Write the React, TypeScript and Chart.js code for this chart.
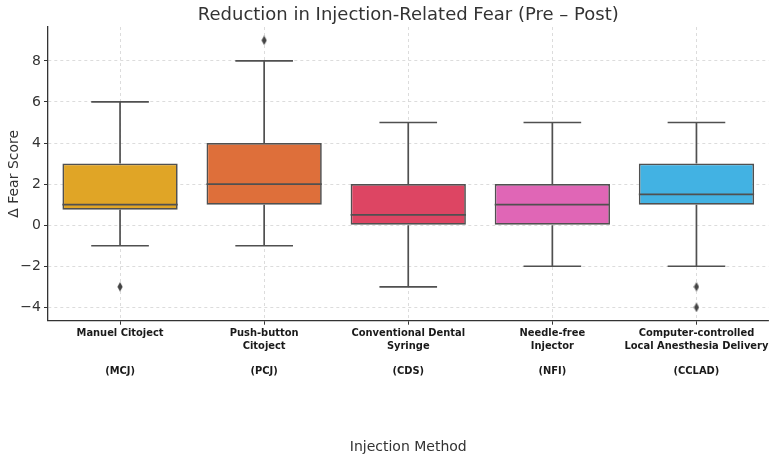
import React, { useEffect, useRef } from "react";
import { Chart, registerables } from "chart.js";

Chart.register(...registerables);

// ---- data ----
const categoryCodes = ["MCJ", "PCJ", "CDS", "NFI", "CCLAD"];
const categoryNames = [
  ["Manuel Citoject", "", "", "(MCJ)"],
  ["Push-button", "Citoject", "", "(PCJ)"],
  ["Conventional Dental", "Syringe", "", "(CDS)"],
  ["Needle-free", "Injector", "", "(NFI)"],
  ["Computer-controlled", "Local Anesthesia Delivery", "", "(CCLAD)"],
];
const whiskerLow = [-1, -1, -3, -2, -2];
const q1 = [0.75, 1, 0, 0, 1];
const median = [1, 2, 0.5, 1, 1.5];
const q3 = [3, 4, 2, 2, 3];
const whiskerHigh = [6, 8, 5, 5, 5];
const outlierCategory = ["MCJ", "PCJ", "CCLAD", "CCLAD"];
const outlierValue = [-3, 9, -3, -4];
const yTickValues = [-4, -2, 0, 2, 4, 6, 8];
const boxColors = ["#E0A526", "#DE6F3A", "#DD4563", "#E066B6", "#42B2E3"];

const LINE = "#505050";

export default function App() {
  const ref = useRef<HTMLCanvasElement | null>(null);

  useEffect(() => {
    if (!ref.current) return;

    const diamond = document.createElement("canvas");
    diamond.width = 6;
    diamond.height = 10;
    const dctx = diamond.getContext("2d")!;
    dctx.fillStyle = "#444";
    dctx.beginPath();
    dctx.moveTo(3, 0.3);
    dctx.lineTo(5.6, 5);
    dctx.lineTo(3, 9.7);
    dctx.lineTo(0.4, 5);
    dctx.closePath();
    dctx.fill();

    const boxPlugin = {
      id: "boxWhiskers",
      afterDatasetsDraw(chart: any) {
        const ctx = chart.ctx;
        const xs = chart.scales.x;
        const ys = chart.scales.y;
        const meta = chart.getDatasetMeta(0);
        const step = xs.getPixelForValue(1) - xs.getPixelForValue(0);
        const cap = step * 0.2;
        ctx.save();
        ctx.strokeStyle = LINE;
        ctx.lineWidth = 1.7;
        ctx.lineCap = "butt";
        for (let i = 0; i < q1.length; i++) {
          const x = xs.getPixelForValue(i);
          const yLo = ys.getPixelForValue(whiskerLow[i]);
          const yQ1 = ys.getPixelForValue(q1[i]);
          const yQ3 = ys.getPixelForValue(q3[i]);
          const yHi = ys.getPixelForValue(whiskerHigh[i]);
          ctx.beginPath();
          ctx.moveTo(x, yQ1);
          ctx.lineTo(x, yLo);
          ctx.moveTo(x, yQ3);
          ctx.lineTo(x, yHi);
          ctx.moveTo(x - cap, yLo);
          ctx.lineTo(x + cap, yLo);
          ctx.moveTo(x - cap, yHi);
          ctx.lineTo(x + cap, yHi);
          ctx.stroke();
          const bar = meta.data[i] as any;
          const half = bar.width / 2;
          const yMed = ys.getPixelForValue(median[i]);
          ctx.beginPath();
          ctx.moveTo(bar.x - half, yMed);
          ctx.lineTo(bar.x + half, yMed);
          ctx.stroke();
        }
        ctx.restore();
      },
    };

    const chart = new Chart(ref.current, {
      type: "bar",
      data: {
        labels: categoryCodes,
        datasets: [
          {
            label: "IQR",
            data: q1.map((v, i) => [v, q3[i]]) as any,
            backgroundColor: boxColors,
            borderColor: LINE,
            borderWidth: 1.7,
            borderSkipped: false,
            barPercentage: 0.8,
            categoryPercentage: 1.0,
          },
          {
            type: "line",
            label: "Outliers",
            data: outlierCategory.map((c, i) => ({ x: c, y: outlierValue[i] })) as any,
            showLine: false,
            pointStyle: diamond as any,
            pointRadius: 4,
            backgroundColor: "#444",
            borderColor: "#444",
          } as any,
        ],
      },
      options: {
        responsive: false,
        animation: false,
        devicePixelRatio: 1,
        layout: { padding: { left: 0, right: 7.5, top: 0, bottom: 0 } },
        plugins: {
          legend: { display: false },
          tooltip: { enabled: false },
          title: {
            display: true,
            fullSize: false,
            text: "Reduction in Injection-Related Fear (Pre – Post)",
            color: "#333333",
            font: { family: "DejaVu Sans", size: 18, weight: "normal", lineHeight: 1.2 },
            padding: { top: 4.8, bottom: 0.6 },
          },
        },
        scales: {
          x: {
            type: "category",
            offset: true,
            grid: {
              offset: false,
              color: "#d4d4d4",
              lineWidth: 0.8,
              tickColor: "#333333",
              tickLength: 4,
              tickWidth: 1,
            },
            border: { display: true, color: "#333333", width: 1.3, dash: [3, 3] },
            ticks: {
              color: "#1a1a1a",
              maxRotation: 0,
              autoSkip: false,
              padding: 2.5,
              callback: (_v: any, i: number) => categoryNames[i],
              font: {
                family: "'Liberation Sans Narrow', 'DejaVu Sans Condensed', 'Arial Narrow', sans-serif",
                size: 11,
                weight: "bold",
                lineHeight: 12.6 / 11,
              },
            },
            title: {
              display: true,
              text: "Injection Method",
              color: "#333333",
              font: { family: "DejaVu Sans", size: 14, lineHeight: 1.2 },
              padding: { top: 0, bottom: 6.9 },
            },
            afterFit(scale: any) {
              scale.height = 142.3;
            },
          },
          y: {
            type: "linear",
            min: -4.65,
            max: 9.65,
            grid: {
              color: "#d4d4d4",
              lineWidth: 0.8,
              tickColor: "#333333",
              tickLength: 4,
              tickWidth: 1,
            },
            border: { display: true, color: "#333333", width: 1.3, dash: [3, 3] },
            afterBuildTicks(scale: any) {
              scale.ticks = yTickValues.map((v) => ({ value: v }));
            },
            ticks: {
              color: "#333333",
              padding: 3,
              font: { family: "DejaVu Sans", size: 14 },
              callback: (v: any) => (Number(v) < 0 ? "\u2212" + Math.abs(Number(v)) : String(v)),
            },
            title: {
              display: true,
              text: "Δ Fear Score",
              color: "#333333",
              font: { family: "DejaVu Sans", size: 14, lineHeight: 1.2 },
              padding: { top: 5.6, bottom: 0 },
            },
            afterFit(scale: any) {
              scale.width = 48;
            },
          },
        },
      },
      plugins: [boxPlugin],
    });

    return () => chart.destroy();
  }, []);

  return (
    <div style={{ position: "fixed", left: 0, top: 0, width: 776, height: 463, background: "#fff" }}>
      <canvas ref={ref} width={776} height={463} />
    </div>
  );
}
